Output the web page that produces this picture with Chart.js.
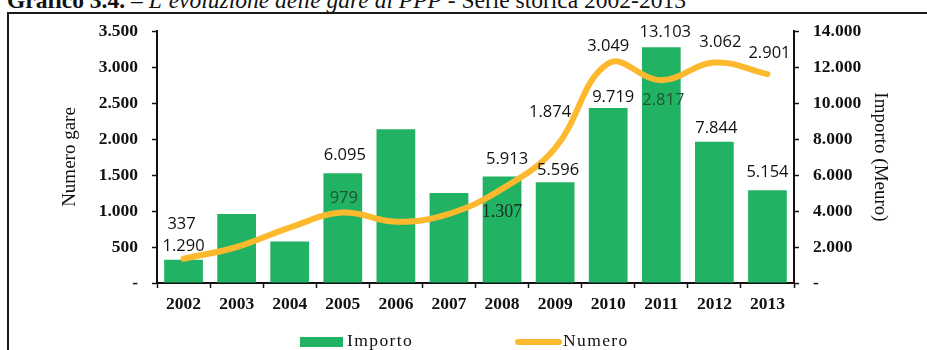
<!DOCTYPE html>
<html lang="it">
<head>
<meta charset="utf-8">
<title>Gare di PPP 2002-2013</title>
<script src="https://cdn.jsdelivr.net/npm/chart.js@4.4.1/dist/chart.umd.min.js"></script>
<style>
  html, body { margin: 0; padding: 0; background: #fff; width: 927px; height: 350px; overflow: hidden; }
  #title {
    position: absolute; left: 7px; top: -11px;
    font-family: "Liberation Serif", serif; font-size: 23.5px; line-height: 23.5px;
    white-space: nowrap; color: #111;
  }
  #title b { font-weight: bold; }
  #title i { font-style: italic; }
  #frame {
    position: absolute; left: 7px; top: 12px; width: 1000px; height: 400px;
    border: 2px solid #1a1a1a; box-sizing: border-box;
  }
  #chart { position: absolute; left: 0; top: 0; }
  .lg-text {
    position: absolute; top: 332px;
    font-family: "Liberation Serif", serif; font-size: 17.5px; line-height: 17.5px;
    letter-spacing: 1.4px; color: #111; white-space: nowrap;
  }
  .lg-bar { position: absolute; left: 300px; top: 337px; width: 43px; height: 10px; background: #22b263; }
  .lg-line { position: absolute; left: 515px; top: 339px; width: 47px; height: 6px; border-radius: 3px; background: #fdb92d; }
</style>
</head>
<body>
<div id="title"><b>Grafico 3.4.</b> – <i>L’evoluzione delle gare di PPP</i> - Serie storica 2002-2013</div>
<div id="frame"></div>
<canvas id="chart" width="927" height="350"></canvas>
<div class="lg-bar"></div><div class="lg-text" style="left:347px">Importo</div>
<div class="lg-line"></div><div class="lg-text" style="left:563px">Numero</div>
<script>
// Anni della serie storica
const years = ['2002', '2003', '2004', '2005', '2006', '2007', '2008', '2009', '2010', '2011', '2012', '2013'];

// Importo delle gare (milioni di euro) – asse destro
const importo = [1290, 3830, 2300, 6095, 8540, 5000, 5913, 5596, 9719, 13103, 7844, 5154];

// Numero di gare – asse sinistro
const numero = [337, 500, 770, 979, 850, 960, 1307, 1874, 3049, 2817, 3062, 2901];

// Scale degli assi
const numeroAxisMax = 3500;
const numeroAxisStep = 500;
const importoAxisMax = 14000;
const importoAxisStep = 2000;

// Etichette dei valori: spostamento [dx, dy] rispetto al punto/barra (null = nessuna etichetta)
const importoLabelOffset = [[0, -13], null, null, [2, -18], null, null, [5, -17], [3, -12], [5, -11], [4, -15], [2, -14], [0, -18]];
const numeroLabelOffset  = [[-2, -34], null, null, [1, -14], null, null, [0, 23], [-5, -36], [0, -17], [2, 20], [6, -20], [2, -21]];
const numeroLabelColor   = ['#111', null, null, '#1d5535', null, null, '#1b2a22', '#111', '#111', '#1d5535', '#111', '#111'];
const numeroLabelSerif   = [false, false, false, false, false, false, true, false, false, false, false, false];

const GREEN = '#22b263';
const ORANGE = '#fdb92d';
const INK = '#111';
const SERIF = '"Liberation Serif", serif';
const SANS = '"Open Sans", sans-serif';

// Formato italiano: punto come separatore delle migliaia, trattino per lo zero
function fmt(v) {
  if (v === 0) return '-';
  return String(Math.round(v)).replace(/\B(?=(\d{3})+(?!\d))/g, '.');
}

const valueLabels = {
  id: 'valueLabels',
  afterDatasetsDraw(chart) {
    const ctx = chart.ctx;
    const bars = chart.getDatasetMeta(0).data;
    const pts = chart.getDatasetMeta(1).data;
    ctx.save();
    ctx.textAlign = 'center';
    ctx.textBaseline = 'middle';
    bars.forEach((el, i) => {
      const off = importoLabelOffset[i];
      if (!off) return;
      ctx.font = '16.5px ' + SANS;
      ctx.fillStyle = INK;
      ctx.fillText(fmt(importo[i]), el.x + off[0], el.y + off[1]);
    });
    pts.forEach((el, i) => {
      const off = numeroLabelOffset[i];
      if (!off) return;
      ctx.font = numeroLabelSerif[i] ? '18px ' + SERIF : '16.5px ' + SANS;
      ctx.fillStyle = numeroLabelColor[i];
      ctx.fillText(fmt(numero[i]), el.x + off[0], el.y + off[1]);
    });
    ctx.restore();
  }
};

const tickFont = { family: SERIF, size: 17.5, weight: 'bold' };
const titleFont = { family: SERIF, size: 19 };

new Chart(document.getElementById('chart'), {
  data: {
    labels: years,
    datasets: [
      {
        type: 'bar',
        label: 'Importo',
        data: importo,
        yAxisID: 'y1',
        backgroundColor: GREEN,
        borderWidth: 0,
        categoryPercentage: 1,
        barPercentage: 0.73,
        order: 2
      },
      {
        type: 'line',
        label: 'Numero',
        data: numero,
        yAxisID: 'y',
        borderColor: ORANGE,
        borderWidth: 6,
        borderCapStyle: 'round',
        borderJoinStyle: 'round',
        tension: 0.4,
        pointRadius: 0,
        fill: false,
        order: 1
      }
    ]
  },
  options: {
    responsive: false,
    animation: false,
    events: [],
    layout: { padding: { top: 31, left: 0, right: 0, bottom: 0 } },
    plugins: { legend: { display: false }, tooltip: { enabled: false }, title: { display: false } },
    scales: {
      x: {
        type: 'category',
        offset: true,
        grid: { display: true, offset: true, drawOnChartArea: false, drawTicks: true, tickLength: 5, tickColor: INK, tickWidth: 1.5 },
        border: { display: true, color: INK, width: 2 },
        ticks: { font: tickFont, color: INK, padding: 6, maxRotation: 0, autoSkip: false },
        afterFit: s => { s.height = 67; }
      },
      y: {
        position: 'left',
        min: 0,
        max: numeroAxisMax,
        grid: { drawOnChartArea: false, drawTicks: true, tickLength: 5, tickColor: INK, tickWidth: 1.5 },
        border: { display: true, color: INK, width: 2 },
        ticks: { stepSize: numeroAxisStep, font: tickFont, color: INK, padding: 14, callback: v => fmt(v) },
        title: { display: true, text: 'Numero gare', font: titleFont, color: INK, padding: { top: 58.6, bottom: 0 } },
        afterFit: s => { s.width = 157; }
      },
      y1: {
        position: 'right',
        min: 0,
        max: importoAxisMax,
        grid: { drawOnChartArea: false, drawTicks: true, tickLength: 5, tickColor: INK, tickWidth: 1.5 },
        border: { display: true, color: INK, width: 2 },
        ticks: { stepSize: importoAxisStep, font: tickFont, color: INK, padding: 14, callback: v => fmt(v) },
        title: { display: true, text: 'Importo (Meuro)', font: titleFont, color: INK, padding: { top: 35.6, bottom: 0 } },
        afterFit: s => { s.width = 133; }
      }
    }
  },
  plugins: [valueLabels]
});
</script>
</body>
</html>
